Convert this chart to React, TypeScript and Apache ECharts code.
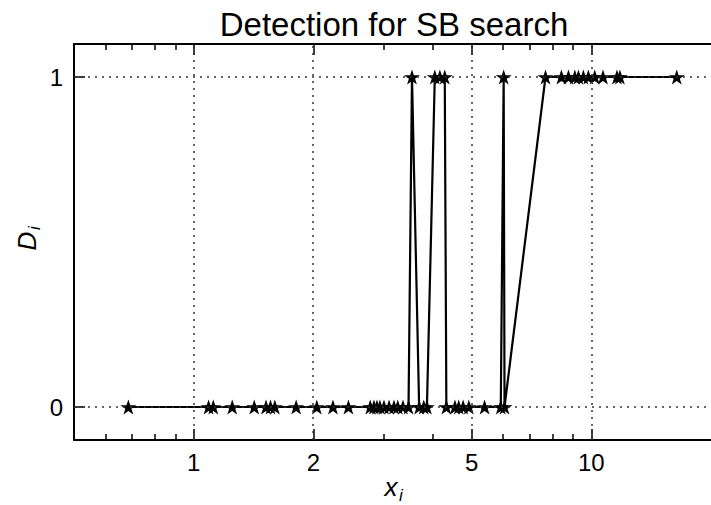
import React, { useEffect, useRef } from 'react';
import * as echarts from 'echarts';

const chartTitle = 'Detection for SB search';
const xValues = [
  0.685, 1.09, 1.12, 1.25, 1.42, 1.52, 1.56, 1.6, 1.81, 2.04, 2.24, 2.45,
  2.78, 2.84, 2.89, 2.94, 3.01, 3.1, 3.19, 3.26, 3.36, 3.47, 3.54, 3.69,
  3.79, 3.86, 4.04, 4.16, 4.28, 4.32, 4.54, 4.64, 4.76, 4.92, 5.39, 5.92,
  6.02, 6.05, 7.67, 8.41, 8.76, 9.09, 9.28, 9.55, 9.83, 10.2, 10.7, 11.6,
  11.8, 16.4,
];
const detections = [
  0, 0, 0, 0, 0, 0, 0, 0, 0, 0, 0, 0,
  0, 0, 0, 0, 0, 0, 0, 0, 0, 0, 1, 0,
  0, 0, 1, 1, 1, 0, 0, 0, 0, 0, 0, 0,
  1, 0, 1, 1, 1, 1, 1, 1, 1, 1, 1, 1,
  1, 1,
];
const xTickValues = [1, 2, 5, 10];
const xMinorTickValues = [0.6, 0.7, 0.8, 0.9, 3, 4, 6, 7, 8, 9];
const yTickValues = [0, 1];
const xRange = [0.5, 20];
const yRange = [-0.1, 1.1];

const FONT = '"Liberation Sans", Arial, Helvetica, sans-serif';
const STAR =
  'path://M50 0 L61.23 34.55 L97.55 34.55 L68.17 55.9 L79.39 90.45 L50 69.1 L20.61 90.45 L31.83 55.9 L2.45 34.55 L38.77 34.55 Z';

const lg = (v: number) => Math.log10(v);

export default function App() {
  const ref = useRef<HTMLDivElement>(null);
  useEffect(() => {
    if (!ref.current) return;
    const chart = echarts.init(ref.current, undefined, { renderer: 'svg' });
    const baseX = (position: 'top' | 'bottom', major: boolean, labels: boolean) => ({
      type: 'value',
      gridIndex: 0,
      position,
      min: lg(xRange[0]),
      max: lg(xRange[1]),
      axisLine: { show: major, onZero: false, lineStyle: { color: '#000', width: 2 } },
      axisTick: {
        show: true,
        inside: true,
        length: major ? 11 : 6,
        customValues: (major ? xTickValues : xMinorTickValues).map(lg),
        lineStyle: { color: '#000', width: 1.5 },
      },
      axisLabel: {
        show: labels,
        customValues: xTickValues.map(lg),
        formatter: (v: number) => String(Math.round(Math.pow(10, v))),
        fontSize: 24,
        color: '#000',
        fontFamily: FONT,
        margin: 10,
      },
      splitLine: { show: false },
    });
    const txt = (text: string, size: number, italic: boolean) => ({
      text,
      fontSize: size,
      fontStyle: italic ? 'italic' : 'normal',
      fontFamily: FONT,
      fill: '#000',
      align: 'center',
      verticalAlign: 'middle',
      textAlign: 'center',
      textVerticalAlign: 'middle',
    });
    chart.setOption({
      animation: false,
      backgroundColor: '#fff',
      grid: { left: 74, top: 44, width: 639, height: 396, containLabel: false },
      xAxis: [
        baseX('bottom', true, true),
        baseX('top', true, false),
        baseX('bottom', false, false),
        baseX('top', false, false),
      ],
      yAxis: {
        type: 'value',
        min: yRange[0],
        max: yRange[1],
        axisLine: { show: true, onZero: false, lineStyle: { color: '#000', width: 2 } },
        axisTick: {
          show: true,
          inside: true,
          length: 11,
          customValues: yTickValues,
          lineStyle: { color: '#000', width: 1.5 },
        },
        axisLabel: {
          customValues: yTickValues,
          fontSize: 24,
          color: '#000',
          fontFamily: FONT,
          margin: 11,
        },
        splitLine: { show: false },
      },
      series: [
        {
          type: 'line',
          xAxisIndex: 0,
          yAxisIndex: 0,
          data: xValues.map((x, i) => [lg(x), detections[i]]),
          symbol: STAR,
          symbolSize: [16, 15],
          showSymbol: true,
          lineStyle: { color: '#000', width: 2.2 },
          itemStyle: { color: '#000' },
          markLine: {
            silent: true,
            symbol: ['none', 'none'],
            label: { show: false },
            lineStyle: { type: [2, 5], color: '#333', width: 1.5 },
            data: [
              ...xTickValues.map((v) => ({ xAxis: lg(v) })),
              ...yTickValues.map((v) => ({ yAxis: v })),
            ],
          },
        },
      ],
      graphic: [
        { type: 'text', x: 394, y: 24, style: txt(chartTitle, 33, false) },
        { type: 'text', x: 391, y: 487, style: txt('x', 26, true) },
        { type: 'text', x: 401, y: 495, style: txt('i', 17, true) },
        {
          type: 'group',
          x: 27,
          y: 241,
          rotation: Math.PI / 2,
          children: [
            { type: 'text', x: 0, y: 0, style: txt('D', 26, true) },
            { type: 'text', x: 13, y: 7, style: txt('i', 17, true) },
          ],
        },
      ],
    });
    return () => chart.dispose();
  }, []);
  return (
    <div
      ref={ref}
      style={{ position: 'absolute', left: 0, top: 0, width: 711, height: 505 }}
    />
  );
}
